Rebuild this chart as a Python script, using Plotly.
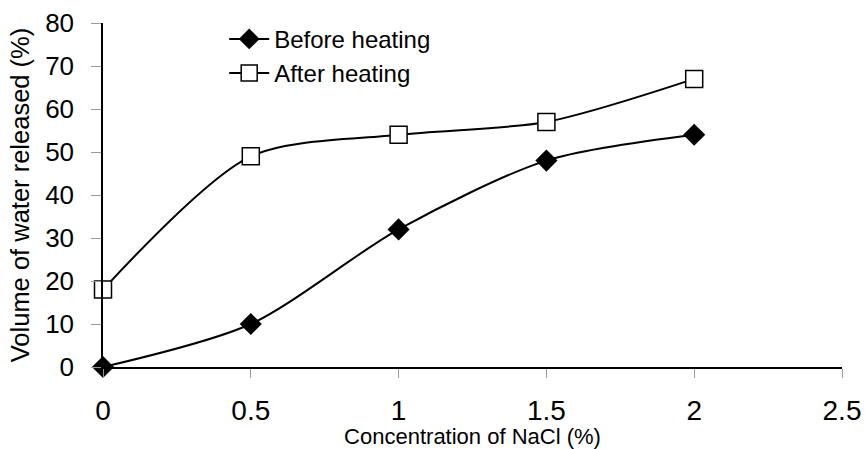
import plotly.graph_objects as go

conc = [0, 0.5, 1, 1.5, 2]
before = [0, 10, 32, 48, 54]
after = [18, 49, 54, 57, 67]
x_ticks = [0, 0.5, 1, 1.5, 2, 2.5]
x_tick_labels = ["0", "0.5", "1", "1.5", "2", "2.5"]
y_ticks = [0, 10, 20, 30, 40, 50, 60, 70, 80]

fig = go.Figure()
fig.add_trace(go.Scatter(
    x=conc, y=before, name="Before heating", mode="lines+markers",
    line=dict(color="black", width=2, shape="spline", smoothing=0.8),
    marker=dict(symbol="diamond", size=17, color="black"),
    cliponaxis=False))
fig.add_trace(go.Scatter(
    x=conc, y=after, name="After heating", mode="lines+markers",
    line=dict(color="black", width=2, shape="spline", smoothing=0.8),
    marker=dict(symbol="square", size=17, color="white", line=dict(color="black", width=1.5)),
    cliponaxis=False))

fig.update_layout(
    width=866, height=449,
    margin=dict(l=103, r=24, t=23, b=82),
    paper_bgcolor="white", plot_bgcolor="white",
    font=dict(family="Liberation Sans, Arial, sans-serif", color="black"),
    showlegend=True,
    legend=dict(x=0.164, y=1.018, xanchor="left", yanchor="top",
                font=dict(size=24, family="Liberation Sans, Arial"),
                bgcolor="rgba(0,0,0,0)", itemwidth=40, tracegroupgap=0),
)
fig.update_xaxes(
    range=[0, 2.5], tickvals=x_ticks, ticktext=x_tick_labels, automargin=False,
    showgrid=False, zeroline=False, showline=True, linecolor="black", linewidth=1.5,
    ticks="outside", ticklen=9, tickcolor="#999999", tickwidth=1,
    ticklabelstandoff=9,
    tickfont=dict(size=28, family="Liberation Sans Narrow, Liberation Sans, Arial"),
    title=dict(text="Concentration of NaCl (%)", standoff=6,
               font=dict(size=22, family="Liberation Sans Narrow, Liberation Sans, Arial")),
)
fig.update_yaxes(
    range=[0, 80], tickvals=y_ticks, automargin=False,
    showgrid=False, zeroline=False, showline=True, linecolor="black", linewidth=1.5,
    ticks="outside", ticklen=10, tickcolor="#999999", tickwidth=1,
    ticklabelstandoff=12,
    tickfont=dict(size=26, family="Liberation Sans, Arial"),
    title=dict(text="Volume of water released (%)", standoff=8,
               font=dict(size=25.5, family="Liberation Sans, Arial")),
)

fig.write_html("out.html")
